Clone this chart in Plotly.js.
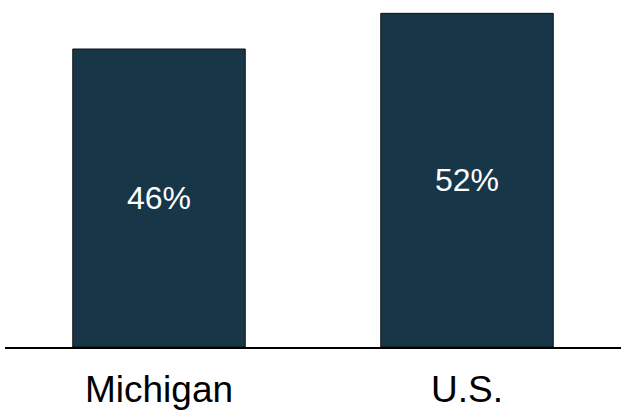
<!DOCTYPE html>
<html>
<head>
<meta charset="utf-8">
<script src="https://cdn.plot.ly/plotly-3.0.1.min.js"></script>
<style>html,body{margin:0;padding:0;background:#fff;}#chart{width:625px;height:411px;}</style>
</head>
<body>
<div id="chart"></div>
<script>
const categories = ["Michigan", "U.S."];
const values = [46, 51.5];
const valueLabels = ["46%", "52%"];

const trace = {
  type: "bar",
  x: categories,
  y: values,
  text: valueLabels,
  textposition: "inside",
  insidetextanchor: "middle",
  constraintext: "none",
  textangle: 0,
  textfont: {family: "Liberation Sans, Arial, sans-serif", size: 32, color: "#ffffff"},
  marker: {color: "#173648", line: {color: "#111111", width: 1}},
  hoverinfo: "none"
};

const layout = {
  width: 625, height: 411,
  margin: {l: 5, r: 4, t: 10, b: 64},
  paper_bgcolor: "#ffffff", plot_bgcolor: "#ffffff",
  bargap: 0.44,
  showlegend: false,
  font: {family: "Liberation Sans, Arial, sans-serif", color: "#000000"},
  xaxis: {
    showline: true, linecolor: "#000000", linewidth: 1.5,
    ticks: "", showgrid: false, zeroline: false,
    tickfont: {size: 37, color: "#000000"},
    ticklabelstandoff: 9
  },
  yaxis: {
    range: [0, 52.02], visible: false, showgrid: false, zeroline: false
  }
};

Plotly.newPlot("chart", [trace], layout, {displayModeBar: false, staticPlot: true});
</script>
</body>
</html>
